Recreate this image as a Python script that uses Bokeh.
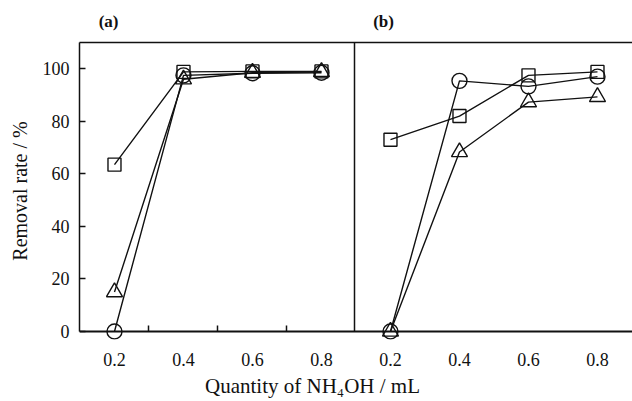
from bokeh.plotting import figure
from bokeh.models import Range1d, FixedTicker, LinearAxis
from bokeh.embed import file_html
from bokeh.resources import INLINE

# ---- data ----
x_vals = [0.2, 0.4, 0.6, 0.8]
x_tick_labels = ["0.2", "0.4", "0.6", "0.8"]
y_ticks = [0, 20, 40, 60, 80, 100]
minor_x_ticks = [0.3, 0.5, 0.7]
panel_names = ["(a)", "(b)"]
x_title = "Quantity of NH\u2084OH / mL"
y_title = "Removal rate / %"

a_circle = [0, 97.5, 98.3, 98.5]
a_square = [63.5, 98.8, 99.0, 99.0]
a_triangle = [15.0, 96.0, 98.5, 98.8]

b_circle = [0, 95.4, 93.3, 97.0]
b_square = [73.0, 82.0, 97.5, 98.8]
b_triangle = [0, 68.3, 87.3, 89.3]

FONT = "Liberation Serif"
BLACK = "#111111"

a_start = 0.0986
a_end = a_start + 553 / 345
panel_shift = 0.8
b_start, b_end = a_start - panel_shift, a_end - panel_shift

p = figure(width=632, height=401, output_backend="svg", toolbar_location=None,
           x_range=Range1d(a_start, a_end), y_range=Range1d(-3.05, 110),
           min_border_left=79, min_border_right=0, min_border_top=42,
           min_border_bottom=62, x_axis_type=None, y_axis_type=None)
p.extra_x_ranges = {"b": Range1d(b_start, b_end)}
p.outline_line_color = None
p.grid.visible = False
p.background_fill_color = "white"
p.border_fill_color = "white"


def bare(axis):
    axis.major_tick_in = 0
    axis.major_tick_out = 0
    axis.minor_tick_in = 0
    axis.minor_tick_out = 0
    return axis


# bottom axis line at y = 0 with inner minor ticks
xline = bare(LinearAxis(ticker=FixedTicker(ticks=[], minor_ticks=minor_x_ticks),
                        fixed_location=0))
xline.minor_tick_in = 6
xline.minor_tick_line_width = 1.5
xline.minor_tick_line_color = BLACK
xline.axis_line_width = 2
xline.axis_line_color = BLACK
xline.major_label_text_font_size = "0px"
xline.major_label_standoff = 0
p.add_layout(xline, "below")

# tick labels for both panels
b_ticks = [round(v + panel_shift, 6) for v in x_vals]
a_ticks = [round(v, 6) for v in x_vals]
overrides = {t: lab for t, lab in zip(a_ticks + b_ticks, x_tick_labels * 2)}
xlab = bare(LinearAxis(ticker=FixedTicker(ticks=a_ticks + b_ticks)))
xlab.major_label_overrides = overrides
xlab.axis_line_color = None
xlab.major_label_text_font = FONT
xlab.major_label_text_font_size = "18px"
xlab.major_label_text_color = BLACK
xlab.major_label_standoff = 13
p.add_layout(xlab, "below")

# x axis title (placed as a single label row below the tick labels)
title_pos = 0.774
xtitle = bare(LinearAxis(ticker=FixedTicker(ticks=[title_pos])))
xtitle.major_label_overrides = {title_pos: x_title}
xtitle.axis_line_color = None
xtitle.major_label_text_font = FONT
xtitle.major_label_text_font_size = "21px"
xtitle.major_label_text_color = BLACK
xtitle.major_label_standoff = 5
p.add_layout(xtitle, "below")

# left axis
yaxis = bare(LinearAxis(ticker=FixedTicker(ticks=y_ticks), bounds=(0, 110)))
yaxis.major_tick_in = 6
yaxis.major_tick_line_width = 1.5
yaxis.major_tick_line_color = BLACK
yaxis.axis_line_width = 1.5
yaxis.axis_line_color = BLACK
yaxis.major_label_text_font = FONT
yaxis.major_label_text_font_size = "18px"
yaxis.major_label_text_color = BLACK
yaxis.major_label_standoff = 10
yaxis.axis_label = y_title
yaxis.axis_label_text_font = FONT
yaxis.axis_label_text_font_size = "20px"
yaxis.axis_label_text_font_style = "normal"
yaxis.axis_label_text_color = BLACK
yaxis.axis_label_standoff = 9
p.add_layout(yaxis, "left")

# panel divider (left frame line of panel b)
divider = bare(LinearAxis(ticker=FixedTicker(ticks=[]), bounds=(0, 110),
                          fixed_location=a_start + 0.7975))
divider.major_label_text_font_size = "0px"
divider.major_label_standoff = 0
divider.axis_line_width = 1.5
divider.axis_line_color = BLACK
p.add_layout(divider, "right")

# top frame line carrying the panel names
top = bare(LinearAxis(ticker=FixedTicker(ticks=[0.183, 0.98])))
top.major_label_overrides = {0.183: panel_names[0], 0.98: panel_names[1]}
top.axis_line_width = 1.5
top.axis_line_color = BLACK
top.major_label_text_font = FONT
top.major_label_text_font_size = "17px"
top.major_label_text_font_style = "bold"
top.major_label_text_color = BLACK
top.major_label_standoff = 12
p.add_layout(top, "above")

LW = 1.4
series = [
    (a_square, "square", 13, "default"),
    (a_circle, "circle", 15, "default"),
    (a_triangle, "triangle", 16, "default"),
    (b_square, "square", 13, "b"),
    (b_circle, "circle", 15, "b"),
    (b_triangle, "triangle", 16, "b"),
]
for ys, marker, size, rng in series:
    p.line(x_vals, ys, line_color=BLACK, line_width=LW, x_range_name=rng)
for ys, marker, size, rng in series:
    p.scatter(x_vals, ys, marker=marker, size=size, fill_color=None,
              line_color=BLACK, line_width=LW, x_range_name=rng)

open("out.html", "w").write(file_html(p, INLINE))
